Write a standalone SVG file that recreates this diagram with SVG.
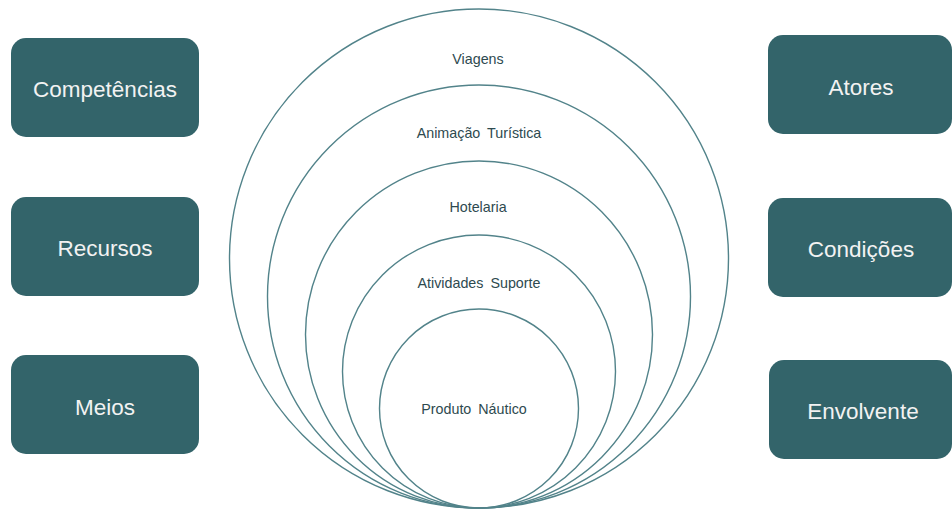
<svg xmlns="http://www.w3.org/2000/svg" width="952" height="510" viewBox="0 0 952 510">
<style>
.box{fill:#33646a;}
.bt{fill:#f2f2f2;font-family:"Liberation Sans",Arial,sans-serif;font-size:22.5px;text-anchor:middle;dominant-baseline:central;}
.ring{fill:none;stroke:#52838a;stroke-width:1.4;}
.rt{fill:#2e4a4f;font-family:"Liberation Sans",Arial,sans-serif;font-size:14.3px;text-anchor:middle;dominant-baseline:central;word-spacing:3px;}
</style>
<rect width="952" height="510" fill="#ffffff"/>
<g id="rings">
  <g id="viagens"><circle class="ring" cx="479" cy="258.5" r="249.5"/><text class="rt" x="478" y="59">Viagens</text></g>
  <g id="animacao"><circle class="ring" cx="479" cy="296.5" r="211.5"/><text class="rt" x="479" y="133">Animação Turística</text></g>
  <g id="hotelaria"><circle class="ring" cx="479" cy="334.5" r="173.5"/><text class="rt" x="478" y="207">Hotelaria</text></g>
  <g id="atividades"><circle class="ring" cx="479" cy="371.5" r="136.5"/><text class="rt" x="479" y="283">Atividades Suporte</text></g>
  <g id="produto"><circle class="ring" cx="479" cy="408.5" r="99.5"/><text class="rt" x="474" y="409">Produto Náutico</text></g>
</g>
<g id="competencias"><rect class="box" x="11" y="38" width="188" height="99" rx="15"/><text class="bt" x="105" y="89">Competências</text></g>
<g id="recursos"><rect class="box" x="11" y="197" width="188" height="99" rx="15"/><text class="bt" x="105" y="248">Recursos</text></g>
<g id="meios"><rect class="box" x="11" y="355" width="188" height="99" rx="15"/><text class="bt" x="105" y="407">Meios</text></g>
<g id="atores"><rect class="box" x="768" y="35" width="184" height="99" rx="15"/><text class="bt" x="861" y="87">Atores</text></g>
<g id="condicoes"><rect class="box" x="768" y="198" width="184" height="99" rx="15"/><text class="bt" x="861" y="249">Condições</text></g>
<g id="envolvente"><rect class="box" x="769" y="360" width="183" height="99" rx="15"/><text class="bt" x="863" y="411">Envolvente</text></g>
<g id="connectors"></g>
</svg>
